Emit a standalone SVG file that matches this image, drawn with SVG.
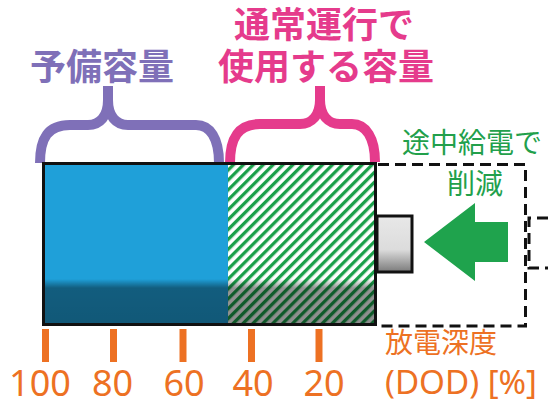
<svg xmlns="http://www.w3.org/2000/svg" width="548" height="401" viewBox="0 0 548 401">
<style>
.jp{font-family:"Noto Sans CJK JP","Noto Sans",sans-serif}
.bold{font-weight:bold;font-size:36px}
.purple{fill:#7f70b8}
.pink{fill:#e53b8c}
.green{fill:#22a04b;font-size:28px}
.orange{fill:#ed7123}
.num{font-family:"Noto Sans","DejaVu Sans",sans-serif;font-size:36px;text-anchor:middle}
.brace{fill:none;stroke-width:10}
.dash{fill:none;stroke:#111;stroke-width:3;stroke-dasharray:11 6}
.tick{stroke:#ed7123;stroke-width:7}
</style>
<defs>
<pattern id="hatch" patternUnits="userSpaceOnUse" width="7" height="10" patternTransform="rotate(45)">
<rect x="0" y="0" width="3.3" height="10" fill="#1aa04a"/>
</pattern>
<linearGradient id="shade" x1="0" y1="0" x2="0" y2="1">
<stop offset="0" stop-color="#000" stop-opacity="0"/>
<stop offset="0.2" stop-color="#000" stop-opacity="0.42"/>
<stop offset="1" stop-color="#000" stop-opacity="0.45"/>
</linearGradient>
<linearGradient id="term" x1="0" y1="0" x2="0" y2="1">
<stop offset="0" stop-color="#e8e8e8"/>
<stop offset="0.6" stop-color="#dcdcdc"/>
<stop offset="1" stop-color="#7a7a7a"/>
</linearGradient>
</defs>

<g id="label-reserve">
<text class="jp bold purple" x="102" y="80" text-anchor="middle">予備容量</text>
</g>
<g id="label-normal">
<text class="jp bold pink" x="324" y="38" text-anchor="middle">通常運行で</text>
<text class="jp bold pink" x="326" y="80" text-anchor="middle">使用する容量</text>
</g>
<g id="label-reduce">
<text class="jp green" x="472" y="153" text-anchor="middle">途中給電で</text>
<text class="jp green" x="475" y="194" text-anchor="middle">削減</text>
</g>

<g id="brace-reserve">
<path class="brace" stroke="#7f70b8" d="M40,163 C40,138 48,125 70,125 L88,125 C100,125 108,116 108,100 L108,86 M108,100 C108,116 116,125 128,125 L196,125 C210,125 219,138 219,163"/>
</g>
<g id="brace-normal">
<path class="brace" stroke="#e53b8c" d="M230,163 C230,138 238,124 260,124 L300,124 C312,124 320,115 320,100 L320,86 M320,100 C320,115 328,124 340,124 L352,124 C366,124 375,138 375,162"/>
</g>

<g id="reduced-area">
<path class="dash" d="M378,164.5 H525.5 V326 H378"/>
<path class="dash" d="M548,218 H529 V268 H548"/>
</g>

<g id="battery">
<rect x="44" y="164" width="185" height="160" fill="#1fa0d9"/>
<rect x="228" y="164" width="148" height="160" fill="#fff"/>
<rect x="228" y="164" width="148" height="160" fill="url(#hatch)"/>
<rect x="44" y="279" width="332" height="45" fill="url(#shade)"/>
<rect x="43.5" y="163.5" width="332" height="161" fill="none" stroke="#111" stroke-width="3"/>
</g>
<g id="terminal">
<rect x="377" y="216" width="35" height="56" fill="url(#term)" stroke="#111" stroke-width="3"/>
</g>
<g id="arrow">
<polygon points="424,242 475,203 475,222 508,222 508,262 475,262 475,281" fill="#1fa34d"/>
</g>

<g id="axis">
<line class="tick" x1="45.5" y1="329" x2="45.5" y2="362"/>
<line class="tick" x1="113.5" y1="329" x2="113.5" y2="362"/>
<line class="tick" x1="183" y1="329" x2="183" y2="362"/>
<line class="tick" x1="251.5" y1="329" x2="251.5" y2="362"/>
<line class="tick" x1="319" y1="329" x2="319" y2="362"/>
<text class="num orange" x="40" y="396">100</text>
<text class="num orange" x="112.5" y="396">80</text>
<text class="num orange" x="184" y="396">60</text>
<text class="num orange" x="253" y="396">40</text>
<text class="num orange" x="324" y="396">20</text>
<text class="jp orange" x="385" y="353" font-size="28">放電深度</text>
<text class="orange" x="385" y="394" font-family="Noto Sans, DejaVu Sans, sans-serif" font-size="32" textLength="152" lengthAdjust="spacingAndGlyphs">(DOD) [%]</text>
</g>
</svg>
